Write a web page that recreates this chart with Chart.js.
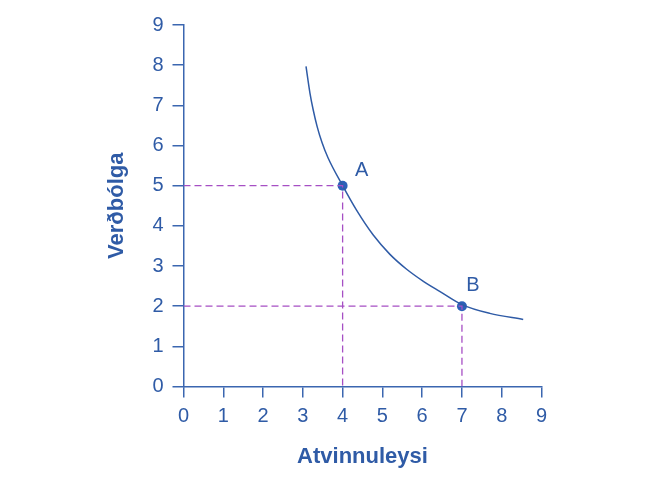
<!DOCTYPE html>
<html>
<head>
<meta charset="utf-8">
<script src="https://cdn.jsdelivr.net/npm/chart.js@4.4.0/dist/chart.umd.min.js"></script>
<style>
html,body{margin:0;padding:0;background:#fff;}
#wrap{width:650px;height:485px;position:relative;}
</style>
</head>
<body>
<div id="wrap"><canvas id="c" width="650" height="485"></canvas></div>
<script>
// Data
const curveX = [3.08, 3.18, 3.26, 3.36, 3.48, 3.63, 4.0, 4.35, 4.77, 5.19, 5.61, 6.03, 6.44, 7.0, 7.70, 8.54];
const curveY = [7.97, 7.30, 6.89, 6.47, 6.08, 5.70, 5.0, 4.39, 3.77, 3.29, 2.92, 2.62, 2.37, 2.04, 1.82, 1.67];
const pointNames = ['A', 'B'];
const pointX = [4, 7];
const pointY = [5, 2];
const xTicks = [0, 1, 2, 3, 4, 5, 6, 7, 8, 9];
const yTicks = [0, 1, 2, 3, 4, 5, 6, 7, 8, 9];
const xTitle = 'Atvinnuleysi';
const yTitle = 'Verðbólga';

const BLUE = '#2f5ba6';
const AXIS = '#3b66b0';
const DOT = '#2c60b8';
const PURPLE = '#a64fc4';

const curve = curveX.map((x, i) => ({x, y: curveY[i]}));
const pts = pointX.map((x, i) => ({x, y: pointY[i]}));
const guides = pointX.map((x, i) => [{x: 0, y: pointY[i]}, {x, y: pointY[i]}, {x, y: 0}]);

const labelPlugin = {
  id: 'pointLabels',
  afterDatasetsDraw(chart) {
    const ctx = chart.ctx;
    const meta = chart.getDatasetMeta(chart.data.datasets.length - 1);
    const offs = [[19, -15], [11, -21]];
    ctx.save();
    ctx.fillStyle = BLUE;
    ctx.font = '20px "Liberation Sans", Arial, sans-serif';
    ctx.textAlign = 'center';
    ctx.textBaseline = 'middle';
    meta.data.forEach((el, i) => {
      ctx.fillText(pointNames[i], el.x + offs[i][0], el.y + offs[i][1]);
    });
    ctx.restore();
  }
};

const tickFont = {family: '"Liberation Sans", Arial, sans-serif', size: 20};
const titleFont = {family: '"Liberation Sans", Arial, sans-serif', size: 22, weight: 'bold'};

new Chart(document.getElementById('c'), {
  type: 'scatter',
  data: {
    datasets: [
      ...guides.map(g => ({
        data: g, showLine: true, borderColor: PURPLE, borderWidth: 1.3,
        borderDash: [7, 4], pointRadius: 0, fill: false, tension: 0
      })),
      {
        data: curve, showLine: true, borderColor: BLUE, borderWidth: 1.5,
        pointRadius: 0, cubicInterpolationMode: 'monotone', fill: false
      },
      {
        data: pts, showLine: false, pointRadius: 5, pointBackgroundColor: DOT,
        pointBorderColor: DOT, pointBorderWidth: 0
      }
    ]
  },
  options: {
    responsive: false,
    animation: false,
    layout: {padding: {left: 0, right: 108.5, top: 25, bottom: 0}},
    plugins: {legend: {display: false}, tooltip: {enabled: false}},
    scales: {
      x: {
        type: 'linear', min: 0, max: 9,
        afterBuildTicks: s => { s.ticks = xTicks.map(v => ({value: v})); },
        afterFit: s => { s.height = 98.5; },
        grid: {drawOnChartArea: false, drawTicks: true, tickLength: 11, color: AXIS, lineWidth: 1.5},
        border: {display: true, color: AXIS, width: 1.5},
        ticks: {color: BLUE, font: tickFont, padding: 7, maxRotation: 0},
        title: {display: true, text: xTitle, color: BLUE, font: titleFont, padding: {top: 0, bottom: 15}}
      },
      y: {
        type: 'linear', min: 0, max: 9,
        afterBuildTicks: s => { s.ticks = yTicks.map(v => ({value: v})); },
        afterFit: s => { s.width = 183.5; },
        grid: {drawOnChartArea: false, drawTicks: true, tickLength: 11, color: AXIS, lineWidth: 1.5},
        border: {display: true, color: AXIS, width: 1.5},
        ticks: {color: BLUE, font: tickFont, padding: 9},
        title: {display: true, text: yTitle, color: BLUE, font: titleFont, padding: {top: 104, bottom: 0}}
      }
    }
  },
  plugins: [labelPlugin]
});
</script>
</body>
</html>
